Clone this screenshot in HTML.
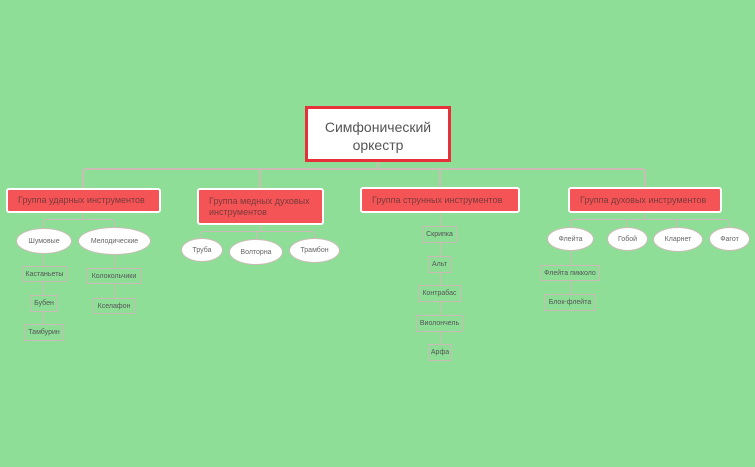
<!DOCTYPE html>
<html><head><meta charset="utf-8"><style>
*{margin:0;padding:0;box-sizing:border-box}
body{width:755px;height:467px;background:#8fde98;position:relative;overflow:hidden;font-family:"Liberation Sans","DejaVu Sans",sans-serif}
.a{position:absolute}
.l{position:absolute;background:#cbbcb6}
.g{position:absolute;background:#f55457;border:2px solid #fff;border-radius:3px;color:#7a3a3a;font-size:9px;line-height:11px;padding:0 0 0 10px;display:flex;align-items:center}
.e{position:absolute;background:#fff;border:1px solid #cbbcb6;border-radius:50%;color:#666;font-size:7px;display:flex;align-items:center;justify-content:center}
.r{position:absolute;background:#8fde98;border:1px solid #cbbcb6;color:#555;font-size:7px;display:flex;align-items:center;justify-content:center;white-space:nowrap}
</style></head><body>
<div class="l" style="left:377px;top:162px;width:2px;height:7px"></div>
<div class="a" style="left:82px;top:168px;width:564px;height:22px;border:2px solid #cbbcb6;border-bottom:none;border-radius:4px 4px 0 0"></div>
<div class="l" style="left:259px;top:168px;width:2px;height:20px"></div>
<div class="l" style="left:439px;top:168px;width:2px;height:20px"></div>
<div class="l" style="left:83px;top:212px;width:1px;height:8px"></div>
<div class="a" style="left:43px;top:219px;width:72px;height:10px;border:1px solid #cbbcb6;border-bottom:none;border-radius:3px 3px 0 0"></div>
<div class="l" style="left:43px;top:254px;width:1px;height:80px"></div>
<div class="l" style="left:114px;top:255px;width:1px;height:50px"></div>
<div class="l" style="left:260px;top:225px;width:1px;height:7px"></div>
<div class="a" style="left:201px;top:231px;width:114px;height:8px;border:1px solid #cbbcb6;border-bottom:none;border-radius:3px 3px 0 0"></div>
<div class="l" style="left:256px;top:231px;width:1px;height:8px"></div>
<div class="l" style="left:440px;top:213px;width:1px;height:140px"></div>
<div class="l" style="left:645px;top:213px;width:1px;height:7px"></div>
<div class="a" style="left:570px;top:219px;width:159px;height:9px;border:1px solid #cbbcb6;border-bottom:none;border-radius:3px 3px 0 0"></div>
<div class="l" style="left:626px;top:219px;width:1px;height:8px"></div>
<div class="l" style="left:677px;top:219px;width:1px;height:8px"></div>
<div class="l" style="left:570px;top:251px;width:1px;height:52px"></div>

<div class="a" style="left:305px;top:106px;width:146px;height:56px;background:#fff;border:3px solid #e8303a;color:#555;font-size:14px;line-height:18px;text-align:center;padding-top:9px">Симфонический<br>оркестр</div>

<div class="g" style="left:6px;top:188px;width:155px;height:25px">Группа ударных инструментов</div>
<div class="g" style="left:197px;top:188px;width:127px;height:37px">Группа медных духовых<br>инструментов</div>
<div class="g" style="left:360px;top:187px;width:160px;height:26px">Группа струнных инструментов</div>
<div class="g" style="left:568px;top:187px;width:154px;height:26px">Группа духовых инструментов</div>

<div class="e" style="left:16px;top:228px;width:56px;height:26px">Шумовые</div>
<div class="e" style="left:78px;top:227px;width:73px;height:28px">Мелодические</div>
<div class="r" style="left:22px;top:266px;width:45px;height:16px">Кастаньеты</div>
<div class="r" style="left:30px;top:295px;width:28px;height:17px">Бубен</div>
<div class="r" style="left:24px;top:324px;width:40px;height:17px">Тамбурин</div>
<div class="r" style="left:86px;top:268px;width:56px;height:16px">Колокольчики</div>
<div class="r" style="left:93px;top:298px;width:42px;height:16px">Кселафон</div>

<div class="e" style="left:181px;top:238px;width:42px;height:24px">Труба</div>
<div class="e" style="left:229px;top:239px;width:54px;height:26px">Волторна</div>
<div class="e" style="left:289px;top:238px;width:51px;height:25px">Трамбон</div>

<div class="r" style="left:422px;top:226px;width:35px;height:17px">Скрипка</div>
<div class="r" style="left:428px;top:256px;width:23px;height:17px">Альт</div>
<div class="r" style="left:418px;top:285px;width:43px;height:17px">Контрабас</div>
<div class="r" style="left:416px;top:315px;width:47px;height:17px">Виолончель</div>
<div class="r" style="left:428px;top:344px;width:24px;height:17px">Арфа</div>

<div class="e" style="left:547px;top:227px;width:47px;height:24px">Флейта</div>
<div class="e" style="left:607px;top:227px;width:41px;height:24px">Гобой</div>
<div class="e" style="left:653px;top:227px;width:50px;height:25px">Кларнет</div>
<div class="e" style="left:709px;top:227px;width:41px;height:24px">Фагот</div>
<div class="r" style="left:540px;top:265px;width:60px;height:16px">Флейта пикколо</div>
<div class="r" style="left:544px;top:294px;width:52px;height:17px">Блок-флейта</div>
</body></html>
